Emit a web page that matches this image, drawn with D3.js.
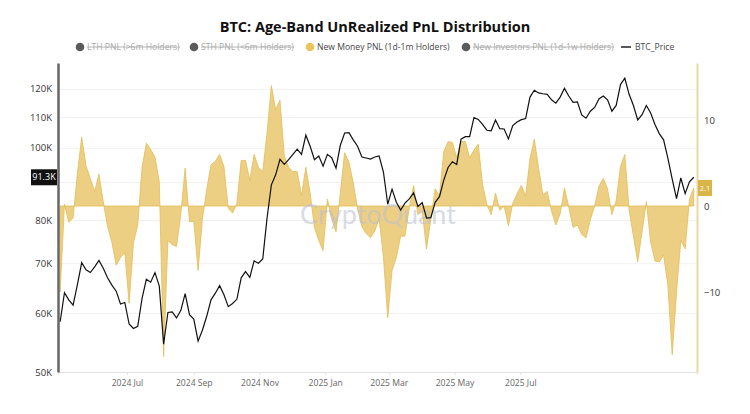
<!DOCTYPE html>
<html><head><meta charset="utf-8">
<script src="https://cdn.jsdelivr.net/npm/d3@7"></script>
<style>body{margin:0;background:#fff;font-family:"Open Sans",sans-serif}</style>
</head><body><svg id="c" width="750" height="414"></svg>
<script>
// ---- data ----
const startDate = "2024-04-30";   // first sample, one sample every 4 days
const stepDays = 4;
const btcPrice = [58.4,63.9,62.5,61.5,65.5,70.1,68.6,68.0,69.2,70.6,68.9,66.9,65.4,64.2,61.7,62.0,58.0,57.2,57.6,62.8,
66.6,66.0,68.0,65.2,54.5,60.1,60.2,59.1,60.5,63.7,59.7,58.9,55.0,56.9,59.4,62.5,63.8,65.3,63.5,61.2,
61.8,62.6,66.9,68.2,67.0,70.5,70.0,70.9,80.5,89.2,92.0,96.5,95.0,96.4,98.0,99.6,98.0,104.0,100.5,96.4,
97.5,94.5,98.0,97.0,93.9,100.8,104.7,104.8,102.5,100.5,97.2,96.9,96.6,97.2,97.5,92.8,84.0,88.0,84.5,82.5,
84.3,85.4,87.0,83.4,84.4,80.5,80.6,84.5,86.0,90.5,94.1,95.8,95.0,102.7,103.5,103.5,109.8,109.2,107.5,105.6,
105.4,109.0,106.1,106.0,102.8,107.1,108.3,109.1,109.5,117.0,119.5,118.5,118.2,118.0,116.0,114.8,117.0,120.2,117.4,115.1,
115.3,110.7,109.6,112.0,113.3,116.3,117.4,116.0,112.0,114.0,121.6,124.0,118.0,114.0,109.0,110.8,114.0,111.4,107.5,104.5,
102.5,96.8,90.8,85.5,91.1,86.8,90.0,91.3]; // thousands USD
const newMoneyPnl = [-10.0,0.2,-1.9,-1.4,3.8,8.0,4.7,3.2,1.7,3.7,0.5,-2.4,-4.2,-6.9,-6.0,-5.4,-11.3,-4.3,-2.2,4.5,
7.3,6.6,5.7,2.8,-17.5,-4.0,-4.5,-4.7,-0.9,4.4,-1.8,-1.8,-7.5,-1.5,1.9,4.8,5.2,6.0,4.6,-0.3,
-0.8,0.3,5.3,5.3,3.0,6.0,4.5,4.0,8.5,14.0,11.2,12.3,5.8,4.5,4.0,4.0,1.2,4.5,1.5,-2.5,
-4.0,-5.2,0.8,-1.5,-3.0,1.5,6.2,5.1,2.7,-0.3,-2.4,-3.2,-3.7,-2.9,-1.5,-5.9,-13.0,-7.5,-6.0,-3.5,
-3.5,-0.2,2.4,-1.0,-0.6,-5.0,-1.5,2.0,1.2,6.3,7.5,7.4,5.6,7.5,7.5,5.6,6.5,7.2,2.5,0.2,
-1.0,1.5,-0.5,0.0,-2.3,0.3,1.4,2.4,1.2,5.5,7.8,4.4,1.3,1.7,-0.6,-2.2,-0.9,2.1,-0.1,-2.5,
-2.2,-3.3,-3.7,-1.6,0.0,2.3,3.2,2.0,-1.0,0.6,4.6,6.0,-0.5,-3.5,-6.5,-3.0,0.5,-4.2,-6.4,-6.5,
-5.7,-9.2,-17.3,-10.0,-4.0,-5.0,0.8,2.1];
const priceTicks = [50,60,70,80,100,110,120];
const pnlTicks = [-10,0,10];
const monthTicks = ["2024-07-01","2024-09-01","2024-11-01","2025-01-01","2025-03-01","2025-05-01","2025-07-01"];
const xExtent = ["2024-04-28","2025-12-12"];
const priceDomain = [50,130];
const pnlDomain = [-19.3,16.63];
const lastPriceLabel = "91.3K";
const lastPnlLabel = "2.1";
const legendItems = [
  {name:"LTH PNL (>6m Holders)", color:"#5a5a5a", off:true, type:"dot"},
  {name:"STH PNL (<6m Holders)", color:"#5a5a5a", off:true, type:"dot"},
  {name:"New Money PNL (1d-1m Holders)", color:"#e9c55c", off:false, type:"dot"},
  {name:"New Investors PNL (1d-1w Holders)", color:"#5a5a5a", off:true, type:"dot"},
  {name:"BTC_Price", color:"#222", off:false, type:"line"}
];

// ---- build ----
const P = d3.utcParse("%Y-%m-%d");
const t0 = P(startDate);
const rows = btcPrice.map((p,i)=>({date:new Date(t0.getTime()+i*stepDays*864e5), price:p, pnl:newMoneyPnl[i]}));

const L=58, R=697, T=63, B=372;
const svg = d3.select("#c");
const x = d3.scaleUtc().domain(xExtent.map(P)).range([L,R]);
const yP = d3.scaleLog().domain(priceDomain).range([B,T]);
const yN = d3.scaleLinear().domain(pnlDomain).range([B,T]);

// title
svg.append("text").attr("x",375).attr("y",32).attr("text-anchor","middle")
  .attr("font-family","'Open Sans',sans-serif").attr("font-weight",700).attr("font-size",14.5).attr("fill","#111")
  .text("BTC: Age-Band UnRealized PnL Distribution");

// legend
const lg = svg.append("g").attr("font-family","'Open Sans',sans-serif").attr("font-size",8.6);
const legX = [80,194,310,466,622];
legendItems.forEach((d,i)=>{
  const g = lg.append("g").attr("transform",`translate(${legX[i]},47)`);
  if(d.type==="dot") g.append("circle").attr("r",4.3).attr("fill",d.color);
  else g.append("line").attr("x1",-1).attr("x2",9).attr("stroke",d.color).attr("stroke-width",1.5);
  g.append("text").attr("x",d.type==="dot"?7:13).attr("dy","0.35em")
   .attr("fill",d.off?"#aaa":"#444")
   .attr("text-decoration",d.off?"line-through":null)
   .text(d.name);
});

// gridlines
svg.append("g").attr("transform",`translate(${L},0)`)
  .call(d3.axisLeft(yP).tickValues(priceTicks.concat([90])).tickSize(-(R-L)).tickFormat(""))
  .call(g=>g.select(".domain").remove())
  .call(g=>g.selectAll("line").attr("stroke","#f1f1f1"));

// x axis
svg.append("g").attr("transform",`translate(0,${B})`)
  .call(d3.axisBottom(x).tickValues(monthTicks.map(P)).tickFormat(d3.utcFormat("%Y %b")).tickSize(3).tickPadding(5))
  .call(g=>g.select(".domain").attr("stroke","#e3e3e3"))
  .call(g=>g.selectAll("line").attr("stroke","#e3e3e3"))
  .call(g=>g.selectAll("text").attr("fill","#666").attr("font-size",8.6).attr("font-family","'Open Sans',sans-serif"));

// area
const area = d3.area().x(d=>x(d.date)).y0(yN(0)).y1(d=>yN(d.pnl));
svg.append("path").datum(rows).attr("d",area).attr("fill","#ebcb78").attr("fill-opacity",0.92)
  .attr("stroke","#e2bd55").attr("stroke-width",0.8);

// watermark (drawn over the area, translucent)
svg.append("text").attr("x",378).attr("y",224).attr("text-anchor","middle")
  .attr("font-family","Lato,sans-serif").attr("font-size",27).attr("fill","#b9bfd3").attr("opacity",0.55)
  .text("CryptoQuant");

// price line
const line = d3.line().x(d=>x(d.date)).y(d=>yP(d.price));
svg.append("path").datum(rows).attr("d",line).attr("fill","none").attr("stroke","#111").attr("stroke-width",1.2);

// left axis
svg.append("g").attr("transform",`translate(${L},0)`)
  .call(d3.axisLeft(yP).tickValues(priceTicks).tickSize(0).tickPadding(6).tickFormat(d=>d+"K"))
  .call(g=>g.select(".domain").attr("stroke","#666").attr("stroke-width",2.5))
  .call(g=>g.selectAll("text").attr("fill","#333").attr("font-size",9.5).attr("font-family","'Open Sans',sans-serif"));

// right axis
svg.append("g").attr("transform",`translate(${R},0)`)
  .call(d3.axisRight(yN).tickValues(pnlTicks).tickSize(0).tickPadding(7))
  .call(g=>g.select(".domain").attr("stroke","#ecd9a0").attr("stroke-width",2))
  .call(g=>g.selectAll("text").attr("fill","#333").attr("font-size",9.5).attr("font-family","'Open Sans',sans-serif"));

// last value labels
const last = rows[rows.length-1];
const yl = yP(last.price);
svg.append("rect").attr("x",31).attr("y",yl-8).attr("width",26).attr("height",16).attr("fill","#111");
svg.append("text").attr("x",44).attr("y",yl).attr("dy","0.35em").attr("text-anchor","middle")
  .attr("fill","#fff").attr("font-size",9).attr("font-family","'Open Sans',sans-serif").text(lastPriceLabel);
const yr = yN(last.pnl);
svg.append("rect").attr("x",698).attr("y",yr-8).attr("width",14).attr("height",16).attr("fill","#d9b449");
svg.append("text").attr("x",705).attr("y",yr).attr("dy","0.35em").attr("text-anchor","middle")
  .attr("fill","#fff").attr("font-size",7.5).attr("font-family","'Open Sans',sans-serif").text(lastPnlLabel);
</script></body></html>
